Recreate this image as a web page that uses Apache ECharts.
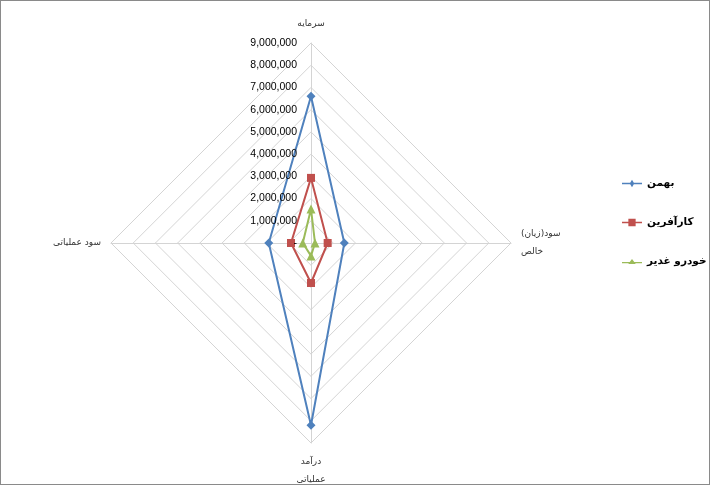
<!DOCTYPE html>
<html><head><meta charset="utf-8">
<script src="https://cdn.jsdelivr.net/npm/echarts@6/dist/echarts.min.js"></script>
<style>html,body{margin:0;padding:0;background:#fff}#c{width:708px;height:483px;border:1px solid #8a8a8a}</style>
</head><body><div id="c"></div>
<script>
// Order as drawn by ECharts (counter-clockwise from top): top, left, bottom, right
const indicatorNames = ['سرمایه', 'سود عملیاتی', 'درآمد\nعملیاتی', 'سود(زیان)\nخالص'];
const seriesNames = ['بهمن', 'کارآفرین', 'خودرو غدیر'];
const bahman = [6600000, 1900000, 8200000, 1500000];
const karafarin = [2930000, 900000, 1800000, 750000];
const khodro = [1530000, 370000, 580000, 180000];
const axisMax = 9000000;
const tickInterval = 1000000;

const colors = ['#4F81BD', '#C0504D', '#9BBB59'];
const symbols = ['diamond', 'rect', 'triangle'];
const legendIcons = [
  'path://M0,4.2L9,4.2L11,1L13,4.2L22,4.2L22,5.8L13,5.8L11,9L9,5.8L0,5.8Z',
  'path://M0,4.2L7,4.2L7,1L15,1L15,4.2L22,4.2L22,5.8L15,5.8L15,9L7,9L7,5.8L0,5.8Z',
  'path://M0,4.2L8.5,4.2L11,1L13.5,4.2L22,4.2L22,5.8L14.5,5.8L15,6.5L7,6.5L7.5,5.8L0,5.8Z'
];
const data = [bahman, karafarin, khodro];

const chart = echarts.init(document.getElementById('c'));
chart.setOption({
  animation: false,
  legend: {
    orient: 'vertical', left: 616, top: 172, itemGap: 28, itemWidth: 20, itemHeight: 9,
    textStyle: {fontFamily: 'DejaVu Sans', fontSize: 10.5, fontWeight: 'bold', color: '#000'},
    data: seriesNames.map((n, i) => ({name: n, icon: legendIcons[i], itemStyle: {color: colors[i]}}))
  },
  radar: {
    center: [310, 242], radius: 200, shape: 'polygon', splitNumber: 9, startAngle: 90,
    indicator: indicatorNames.map(n => ({name: n, min: 0, max: axisMax})),
    axisName: {color: '#333', fontFamily: 'DejaVu Sans', fontSize: 9, lineHeight: 18},
    nameGap: 10,
    splitLine: {lineStyle: {color: '#d4d4d4', width: 1}},
    splitArea: {show: false},
    axisLine: {lineStyle: {color: '#d4d4d4'}},
    axisLabel: {show: false}
  },
  grid: {left: 310, top: 42, width: 1, height: 200, z: 5},
  xAxis: {type: 'value', show: false},
  yAxis: {
    type: 'value', min: 0, max: axisMax, interval: tickInterval, z: 5,
    axisLine: {show: false}, axisTick: {show: false}, splitLine: {show: false},
    axisLabel: {
      margin: 14, color: '#000', fontFamily: 'Liberation Sans', fontSize: 10.5,
      formatter: v => v === 0 ? '-' : v.toLocaleString('en-US')
    }
  },
  series: [{
    type: 'radar', z: 2,
    data: data.map((d, i) => ({
      name: seriesNames[i], value: d, symbol: symbols[i], symbolSize: i === 1 ? 8 : 9,
      lineStyle: {color: colors[i], width: 2},
      itemStyle: {color: colors[i]}
    }))
  }]
});
</script></body></html>
